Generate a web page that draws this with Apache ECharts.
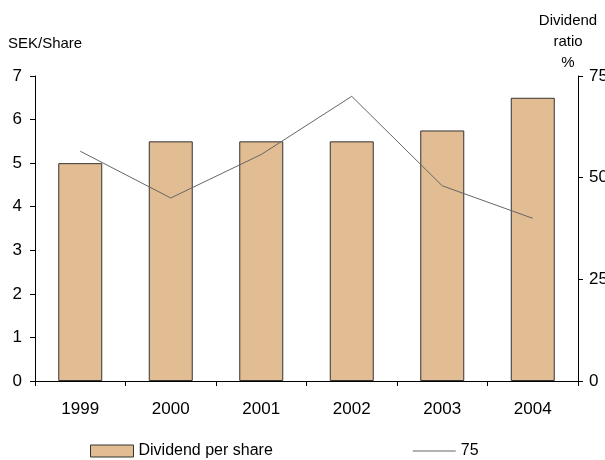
<!DOCTYPE html>
<html>
<head>
<meta charset="utf-8">
<script src="https://cdn.jsdelivr.net/npm/echarts@6/dist/echarts.min.js"></script>
<style>
  html, body { margin: 0; padding: 0; background: #fff; }
  #chart { width: 605px; height: 460px; }
</style>
</head>
<body>
<div id="chart"></div>
<script>
// Dividend per share (SEK) and dividend ratio (%), 1999-2004
const years = ['1999', '2000', '2001', '2002', '2003', '2004'];
const dividendPerShare = [5.0, 5.5, 5.5, 5.5, 5.75, 6.5];
const dividendRatio = [56.5, 45, 55.7, 70, 48, 40];
const leftTicks = { min: 0, max: 7, interval: 1 };
const rightTicks = { min: 0, max: 75, interval: 25 };

const font = '"Liberation Sans", Arial, sans-serif';
const chart = echarts.init(document.getElementById('chart'), null, { renderer: 'canvas' });

chart.setOption({
  animation: false,
  backgroundColor: '#ffffff',
  textStyle: { fontFamily: font, color: '#000' },
  grid: {
    left: 35, right: 27, top: 76, bottom: 79,
    containLabel: false,
    outerBoundsMode: 'none'   // the right-hand labels run off the edge on purpose
  },
  graphic: [
    { type: 'text', x: 8, y: 36,
      style: { text: 'SEK/Share', font: '15px ' + font, fill: '#000' } },
    { type: 'text', x: 568, y: 10,
      style: { text: 'Dividend\nratio\n%', font: '15px ' + font, fill: '#000',
               align: 'center', lineHeight: 21 } }
  ],
  legend: {
    left: 85, top: 438,
    itemWidth: 43, itemHeight: 12, itemGap: 140,
    textStyle: { fontFamily: font, fontSize: 16, color: '#000' },
    data: [
      { name: 'Dividend per share', icon: 'rect',
        itemStyle: { color: '#E2BC92', borderColor: '#333', borderWidth: 1 } },
      { name: '75', icon: 'path://M0,0L43,0L43,1L0,1Z',
        itemStyle: { color: '#666', borderWidth: 0 } }
    ]
  },
  xAxis: {
    type: 'category',
    data: years,
    axisLine: { lineStyle: { color: '#000', width: 1 } },
    axisTick: { show: true, length: 5, lineStyle: { color: '#000' } },
    axisLabel: { fontSize: 17, color: '#000', margin: 20, fontFamily: font }
  },
  yAxis: [
    {
      type: 'value', position: 'left',
      min: leftTicks.min, max: leftTicks.max, interval: leftTicks.interval,
      splitLine: { show: false },
      axisLine: { show: true, lineStyle: { color: '#000', width: 1 } },
      axisTick: { show: true, length: 5, lineStyle: { color: '#000' } },
      axisLabel: { fontSize: 17, color: '#000', margin: 13, fontFamily: font }
    },
    {
      type: 'value', position: 'right',
      min: rightTicks.min, max: rightTicks.max, interval: rightTicks.interval,
      splitLine: { show: false },
      axisLine: { show: true, lineStyle: { color: '#000', width: 1 } },
      axisTick: { show: true, length: 5, lineStyle: { color: '#000' } },
      axisLabel: { fontSize: 17, color: '#000', margin: 11, fontFamily: font }
    }
  ],
  series: [
    {
      name: 'Dividend per share',
      type: 'bar',
      yAxisIndex: 0,
      data: dividendPerShare,
      barWidth: 44,
      itemStyle: { color: '#E2BC92', borderColor: '#333', borderWidth: 1 }
    },
    {
      name: '75',
      type: 'line',
      yAxisIndex: 1,
      data: dividendRatio,
      symbol: 'none',
      itemStyle: { color: '#666' },
      lineStyle: { color: '#666', width: 1 },
      z: 3
    }
  ]
});
</script>
</body>
</html>
